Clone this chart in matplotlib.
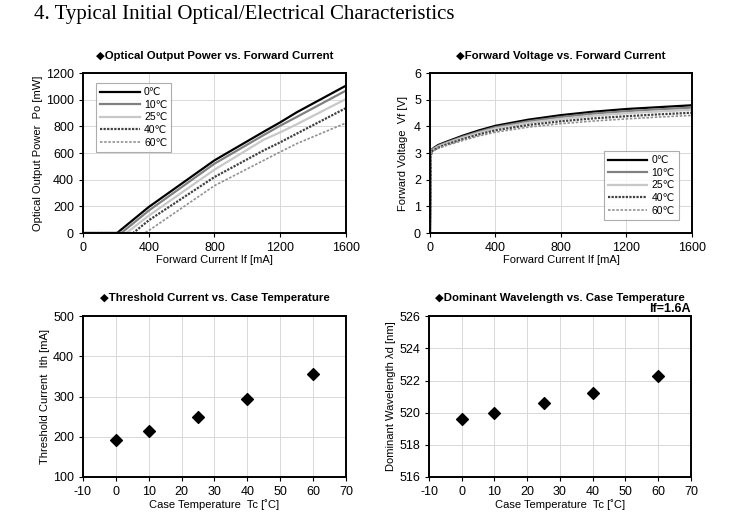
import matplotlib
matplotlib.use("Agg")
import matplotlib.pyplot as plt

plt.rcParams["font.family"] = ["Liberation Sans", "DejaVu Sans"]
plt.rcParams["axes.unicode_minus"] = False

# --- data ---
temps = ["0℃", "10℃", "25℃", "40℃", "60℃"]

po_if = {
    "0℃":  ([0, 207, 400, 800, 1100, 1200, 1300, 1600], [0, 0, 195, 545, 760, 830, 905, 1105]),
    "10℃": ([0, 233, 400, 800, 1100, 1200, 1300, 1600], [0, 0, 168, 520, 735, 805, 870, 1068]),
    "25℃": ([0, 264, 400, 800, 1100, 1200, 1300, 1600], [0, 0, 130, 475, 700, 755, 815, 1005]),
    "40℃": ([0, 305, 400, 800, 1100, 1200, 1300, 1600], [0, 0, 95, 420, 620, 680, 745, 937]),
    "60℃": ([0, 372, 400, 800, 1100, 1200, 1300, 1600], [0, 0, 18, 355, 545, 608, 670, 825]),
}

vf_if = [0, 5, 10, 25, 50, 100, 200, 300, 400, 600, 800, 1000, 1200, 1400, 1600]
vf = {
    "0℃":  [0, 2.9, 3.12, 3.20, 3.30, 3.42, 3.65, 3.85, 4.02, 4.25, 4.42, 4.55, 4.65, 4.72, 4.79],
    "10℃": [0, 2.9, 3.10, 3.18, 3.27, 3.39, 3.61, 3.80, 3.97, 4.19, 4.35, 4.48, 4.57, 4.64, 4.70],
    "25℃": [0, 2.9, 3.08, 3.15, 3.24, 3.36, 3.57, 3.76, 3.92, 4.13, 4.28, 4.40, 4.49, 4.56, 4.62],
    "40℃": [0, 2.9, 3.06, 3.12, 3.20, 3.32, 3.52, 3.70, 3.85, 4.05, 4.19, 4.30, 4.38, 4.45, 4.51],
    "60℃": [0, 2.9, 3.04, 3.10, 3.17, 3.28, 3.47, 3.64, 3.78, 3.97, 4.10, 4.20, 4.28, 4.35, 4.41],
}

tc = [0, 10, 25, 40, 60]
ith = [193, 214, 250, 293, 355]
wld = [519.6, 520.0, 520.6, 521.2, 522.3]

styles = {
    "0℃":  dict(color="black", lw=1.6, ls="-"),
    "10℃": dict(color="#808080", lw=1.6, ls="-"),
    "25℃": dict(color="#c8c8c8", lw=1.6, ls="-"),
    "40℃": dict(color="#404040", lw=1.6, ls=(0, (1, 0.6))),
    "60℃": dict(color="#909090", lw=1.2, ls=(0, (1.5, 1))),
}

TITLE_FONT = dict(family=["Liberation Sans", "DejaVu Sans"], weight="bold", fontsize=8.2)


def style_ax(ax):
    ax.grid(True, color="#d8d8d8", lw=0.7)
    ax.set_axisbelow(True)
    for s in ax.spines.values():
        s.set_linewidth(1.4)
        s.set_color("black")
    ax.tick_params(labelsize=9, length=3, width=0.8)


def title(ax, text, y=1.075):
    ax.text(0.5, y, "◆" + text, transform=ax.transAxes, ha="center", va="bottom", **TITLE_FONT)


def legend(ax, **kw):
    leg = ax.legend(fontsize=7.5, handlelength=3.8, frameon=True, fancybox=False,
                    edgecolor="#999999", borderpad=0.4, labelspacing=0.25,
                    handletextpad=0.4, **kw)
    leg.get_frame().set_linewidth(0.8)


fig = plt.figure(figsize=(7.47, 5.29), dpi=100)
fig.text(0.046, 0.99, "4. Typical Initial Optical/Electrical Characteristics",
         family="Liberation Serif", fontsize=15, va="top", ha="left")

# optical power
ax1 = fig.add_axes([0.1111, 0.5595, 0.352, 0.3025])
for t in temps:
    x, y = po_if[t]
    ax1.plot(x, y, label=t, **styles[t])
ax1.set_xlim(0, 1600)
ax1.set_ylim(0, 1200)
ax1.set_xticks(range(0, 1601, 400))
ax1.set_yticks(range(0, 1201, 200))
ax1.set_xlabel("Forward Current If [mA]", fontsize=8, labelpad=1)
ax1.set_ylabel("Optical Output Power  Po [mW]", fontsize=8, labelpad=2)
style_ax(ax1)
title(ax1, "Optical Output Power vs. Forward Current")
legend(ax1, loc="upper left", bbox_to_anchor=(0.03, 0.97))

# forward voltage
ax2 = fig.add_axes([0.5756, 0.5595, 0.3507, 0.3025])
for t in temps:
    ax2.plot(vf_if, vf[t], label=t, **styles[t])
ax2.set_xlim(0, 1600)
ax2.set_ylim(0, 6)
ax2.set_xticks(range(0, 1601, 400))
ax2.set_yticks(range(0, 7))
ax2.set_xlabel("Forward Current If [mA]", fontsize=8, labelpad=1)
ax2.set_ylabel("Forward Voltage  Vf [V]", fontsize=8, labelpad=4)
style_ax(ax2)
title(ax2, "Forward Voltage vs. Forward Current")
legend(ax2, loc="lower right", bbox_to_anchor=(0.97, 0.05))

# threshold current
ax3 = fig.add_axes([0.1111, 0.0983, 0.352, 0.304])
ax3.scatter(tc, ith, marker="D", s=36, color="black", zorder=3)
ax3.set_xlim(-10, 70)
ax3.set_ylim(100, 500)
ax3.set_xticks(range(-10, 71, 10))
ax3.set_yticks(range(100, 501, 100))
ax3.set_xlabel("Case Temperature  Tc [˚C]", fontsize=8, labelpad=1)
ax3.set_ylabel("Threshold Current  Ith [mA]", fontsize=8, labelpad=2)
style_ax(ax3)
title(ax3, "Threshold Current vs. Case Temperature", y=1.08)

# dominant wavelength
ax4 = fig.add_axes([0.5743, 0.0983, 0.3507, 0.304])
ax4.scatter(tc, wld, marker="D", s=36, color="black", zorder=3)
ax4.set_xlim(-10, 70)
ax4.set_ylim(516, 526)
ax4.set_xticks(range(-10, 71, 10))
ax4.set_yticks(range(516, 527, 2))
ax4.set_xlabel("Case Temperature  Tc [˚C]", fontsize=8, labelpad=1)
ax4.set_ylabel("Dominant Wavelength λd [nm]", fontsize=8, labelpad=2)
style_ax(ax4)
title(ax4, "Dominant Wavelength vs. Case Temperature", y=1.08)
ax4.text(1.0, 1.005, "If=1.6A", transform=ax4.transAxes, ha="right", va="bottom",
         fontsize=9, weight="bold")

fig.savefig("out.png", dpi=100)
